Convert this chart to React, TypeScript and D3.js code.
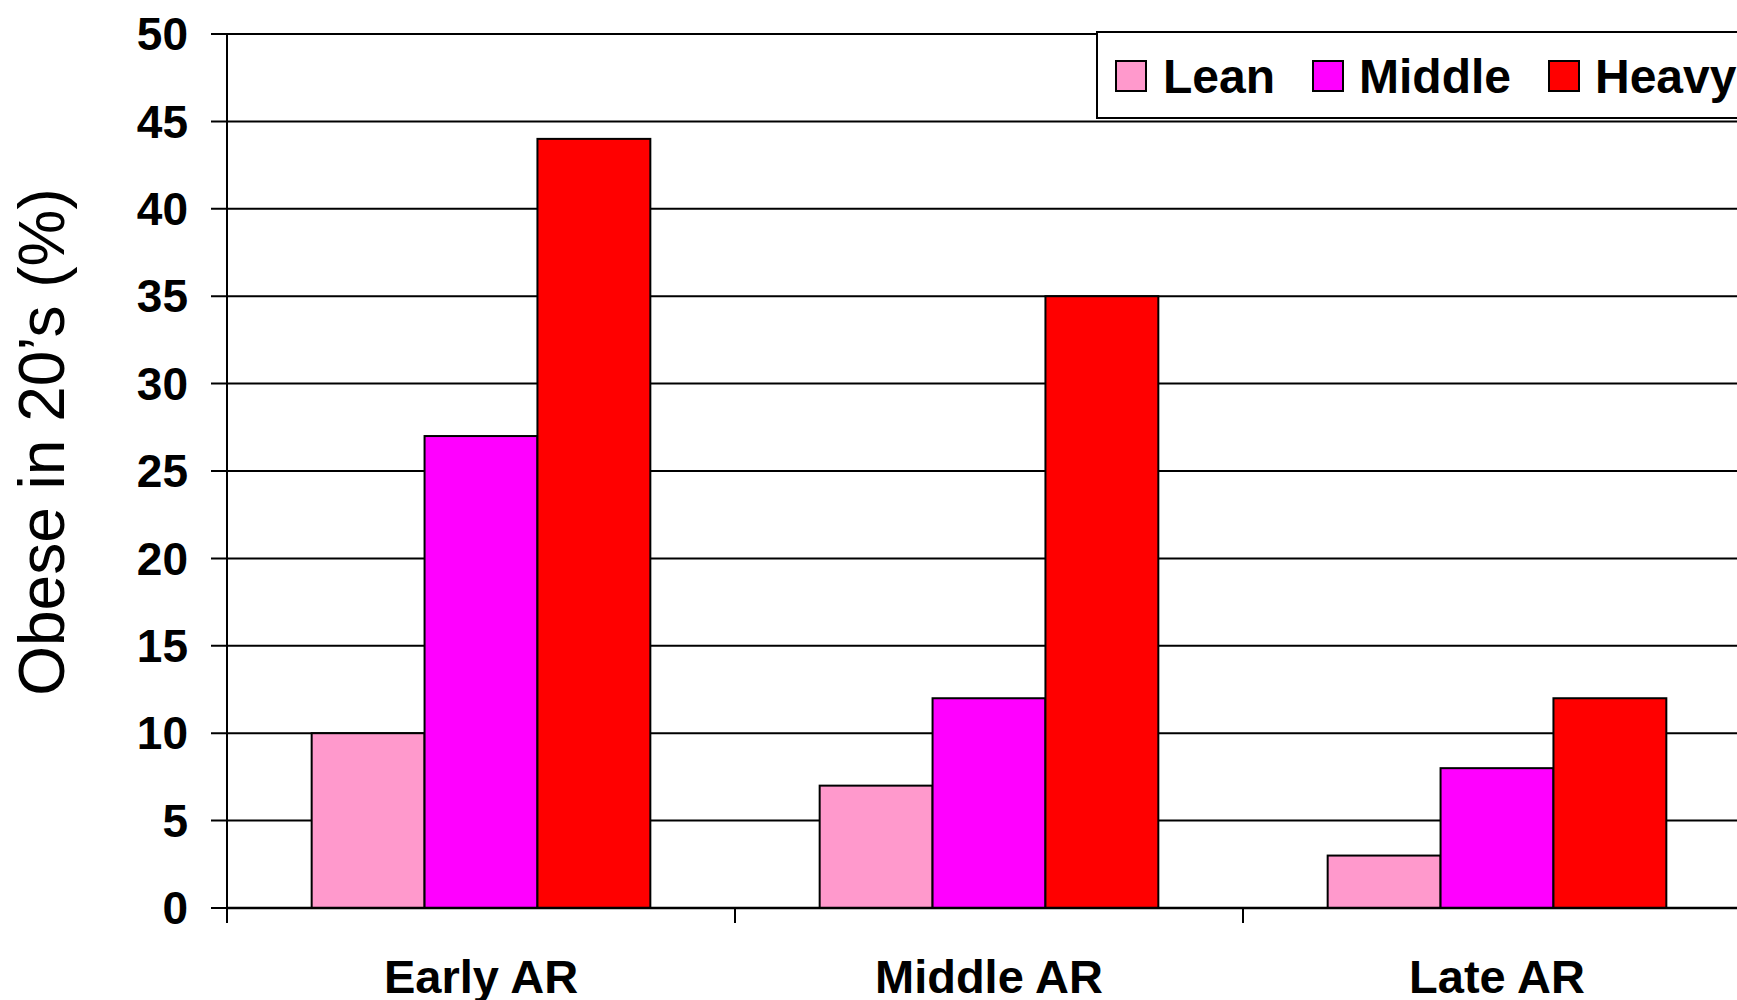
import React from "react";
import * as d3 from "d3";

const categories = ["Early AR", "Middle AR", "Late AR"];
const seriesNames = ["Lean", "Middle", "Heavy"];
const seriesColors = ["#FF99CC", "#FF00FF", "#FF0000"];
const leanValues = [10, 7, 3];
const middleValues = [27, 12, 8];
const heavyValues = [44, 35, 12];
const yTicks = [0, 5, 10, 15, 20, 25, 30, 35, 40, 45, 50];
const yTitle = "Obese in 20\u2019s (%)";

const W = 1737;
const H = 1000;
const FONT = "'Liberation Sans', Arial, sans-serif";

export default function App() {
  const seriesValues = [leanValues, middleValues, heavyValues];
  const left = 227;
  const step = 508;
  const top = 34;
  const bottom = 908;

  const x = d3.scaleBand<string>().domain(categories).range([left, left + step * categories.length]).paddingInner(0).paddingOuter(0);
  const xs = d3.scaleBand<string>().domain(seriesNames).range([0, x.bandwidth()]).paddingInner(0).paddingOuter(0.75);
  const y = d3.scaleLinear().domain([0, 50]).range([bottom, top]);

  const legendX = [1116, 1313, 1549];
  const legendTextX = [1163, 1359, 1595];

  return (
    <svg width={W} height={H} style={{ position: "absolute", left: 0, top: 0, background: "#fff" }} fontFamily={FONT}>
      <rect x={0} y={0} width={W} height={H} fill="#fff" />
      {/* gridlines + y ticks */}
      {yTicks.map((t) => (
        <g key={t}>
          <line x1={left - 16} x2={W + 20} y1={y(t)} y2={y(t)} stroke="#000" strokeWidth={2} />
          <text x={188} y={y(t)} dy="0.35em" textAnchor="end" fontWeight="bold" fontSize={46} fill="#000">
            {t}
          </text>
        </g>
      ))}
      {/* y axis line */}
      <line x1={left} x2={left} y1={top} y2={bottom + 15} stroke="#000" strokeWidth={2} />
      {/* category ticks */}
      {categories.map((c) => (
        <line key={c} x1={x(c)!} x2={x(c)!} y1={bottom} y2={bottom + 15} stroke="#000" strokeWidth={2} />
      ))}
      {/* bars */}
      {categories.map((c, ci) => (
        <g key={c}>
          {seriesNames.map((s, si) => {
            const v = seriesValues[si][ci];
            return (
              <rect
                key={s}
                x={x(c)! + xs(s)!}
                y={y(v)}
                width={xs.bandwidth()}
                height={y(0) - y(v)}
                fill={seriesColors[si]}
                stroke="#000"
                strokeWidth={2}
              />
            );
          })}
        </g>
      ))}
      {/* x axis line */}
      <line x1={left} x2={W + 20} y1={bottom} y2={bottom} stroke="#000" strokeWidth={2.5} />
      {/* category labels */}
      {categories.map((c) => (
        <text key={c} x={x(c)! + x.bandwidth() / 2} y={993} textAnchor="middle" fontWeight="bold" fontSize={47} fill="#000">
          {c}
        </text>
      ))}
      {/* y title */}
      <text transform={`translate(64, 442) rotate(-90)`} textAnchor="middle" fontSize={64} fill="#000">
        {yTitle}
      </text>
      {/* legend */}
      <rect x={1097} y={32} width={700} height={86} fill="#fff" stroke="#000" strokeWidth={2} />
      {seriesNames.map((s, i) => (
        <g key={s}>
          <rect x={legendX[i]} y={61} width={30} height={30} fill={seriesColors[i]} stroke="#000" strokeWidth={2} />
          <text x={legendTextX[i]} y={93} fontWeight="bold" fontSize={48} fill="#000">
            {s}
          </text>
        </g>
      ))}
    </svg>
  );
}
